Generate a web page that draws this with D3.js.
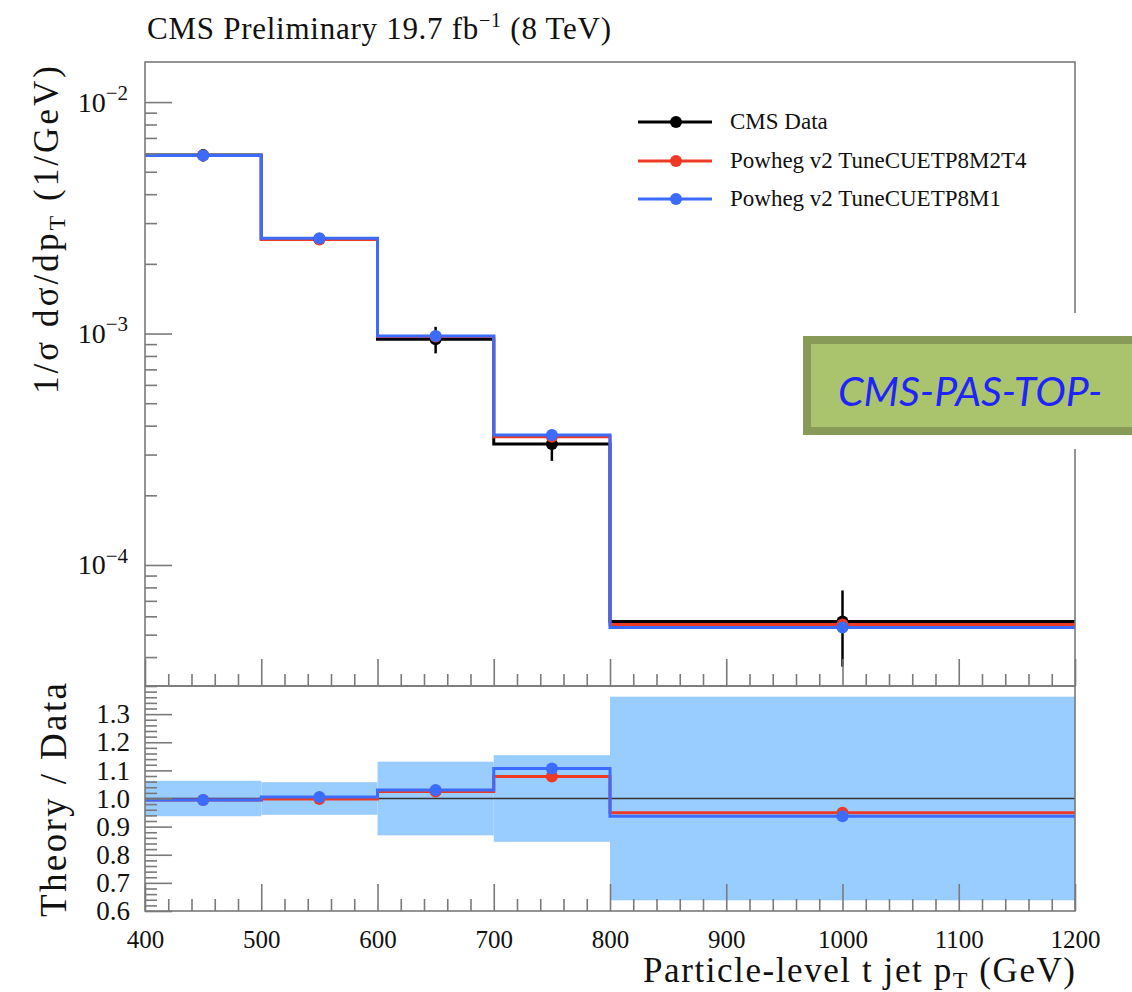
<!DOCTYPE html>
<html>
<head>
<meta charset="utf-8">
<script src="https://cdn.jsdelivr.net/npm/d3@7"></script>
<style>
  html, body { margin: 0; padding: 0; background: #fff; }
  svg { display: block; }
</style>
</head>
<body>
<svg id="chart" width="1132" height="992"></svg>
<script>
// ---------------- data ----------------
const binEdges   = [400, 500, 600, 700, 800, 1200];
const binCenters = [450, 550, 650, 750, 1000];

const dataValues = [5.90e-3, 2.56e-3, 9.45e-4, 3.33e-4, 5.70e-5];
const dataRelErr = [0.063, 0.058, 0.131, 0.154, 0.362];

const m2t4Values = [5.88e-3, 2.55e-3, 9.70e-4, 3.58e-4, 5.53e-5];
const m1Values   = [5.88e-3, 2.58e-3, 9.75e-4, 3.64e-4, 5.37e-5];

const m2t4Ratio  = [0.995, 0.998, 1.025, 1.078, 0.949];
const m1Ratio    = [0.995, 1.005, 1.030, 1.107, 0.937];

const xTickValues     = [400, 500, 600, 700, 800, 900, 1000, 1100, 1200];
const logMajorTicks   = [1e-4, 1e-3, 1e-2];
const ratioTickLabels = [0.6, 0.7, 0.8, 0.9, 1.0, 1.1, 1.2, 1.3];

const legendLabels = ["CMS Data", "Powheg v2 TuneCUETP8M2T4", "Powheg v2 TuneCUETP8M1"];
const titleText = "CMS Preliminary 19.7 fb";
const noteText  = "CMS-PAS-TOP-";

// ---------------- layout ----------------
const serif = "Liberation Serif, DejaVu Serif, serif";
const colData = "#000000", colRed = "#ee3a24", colBlue = "#3b6cff";
const frameCol = "#7a7a7a";
const L = 145, R = 1075;
const topY0 = 62, topY1 = 686, ratY0 = 686, ratY1 = 911;

const svg = d3.select("#chart");

const x = d3.scaleLinear().domain([400, 1200]).range([L, R]);
const y = d3.scaleLog().domain([3.0e-5, 1.49e-2]).range([topY1, topY0]);
const yr = d3.scaleLinear().domain([0.6, 1.4]).range([ratY1, ratY0]);

const defs = svg.append("defs");
defs.append("clipPath").attr("id", "clipTop").append("rect")
  .attr("x", L).attr("y", topY0).attr("width", R - L).attr("height", topY1 - topY0);
defs.append("clipPath").attr("id", "clipRat").append("rect")
  .attr("x", L).attr("y", ratY0).attr("width", R - L).attr("height", ratY1 - ratY0);

// ---------------- ratio band ----------------
const gRat = svg.append("g").attr("clip-path", "url(#clipRat)");
gRat.selectAll("rect.band").data(dataRelErr).join("rect")
  .attr("class", "band")
  .attr("x", (d, i) => x(binEdges[i]))
  .attr("width", (d, i) => x(binEdges[i + 1]) - x(binEdges[i]))
  .attr("y", d => yr(1 + d))
  .attr("height", d => yr(1 - d) - yr(1 + d))
  .attr("fill", "#99ccff");

gRat.append("line")
  .attr("x1", x(400)).attr("x2", x(1200))
  .attr("y1", yr(1)).attr("y2", yr(1))
  .attr("stroke", "#333").attr("stroke-width", 1.3);

// ---------------- step helper ----------------
function stepPoints(vals) {
  const pts = vals.map((v, i) => [binEdges[i], v]);
  pts.push([binEdges[binEdges.length - 1], vals[vals.length - 1]]);
  return pts;
}
const lineTop = d3.line().x(d => x(d[0])).y(d => y(d[1])).curve(d3.curveStepAfter);
const lineRat = d3.line().x(d => x(d[0])).y(d => yr(d[1])).curve(d3.curveStepAfter);

// ---------------- top panel ----------------
const gTop = svg.append("g").attr("clip-path", "url(#clipTop)");
[[dataValues, colData], [m2t4Values, colRed], [m1Values, colBlue]].forEach(([vals, c]) => {
  gTop.append("path").attr("d", lineTop(stepPoints(vals)))
    .attr("fill", "none").attr("stroke", c).attr("stroke-width", 3);
});
gTop.selectAll("line.err").data(dataValues).join("line")
  .attr("x1", (d, i) => x(binCenters[i])).attr("x2", (d, i) => x(binCenters[i]))
  .attr("y1", (d, i) => y(d * (1 + dataRelErr[i])))
  .attr("y2", (d, i) => y(d * (1 - dataRelErr[i])))
  .attr("stroke", colData).attr("stroke-width", 2.5);
gTop.selectAll("circle.data").data(dataValues).join("circle")
  .attr("cx", (d, i) => x(binCenters[i])).attr("cy", d => y(d))
  .attr("r", 6).attr("fill", colData);
gTop.selectAll("circle.m2").data(m2t4Values).join("circle")
  .attr("cx", (d, i) => x(binCenters[i])).attr("cy", d => y(d))
  .attr("r", 6).attr("fill", colRed);
gTop.selectAll("circle.m1").data(m1Values).join("circle")
  .attr("cx", (d, i) => x(binCenters[i])).attr("cy", d => y(d))
  .attr("r", 6).attr("fill", colBlue);

// ---------------- ratio lines ----------------
[[m2t4Ratio, colRed], [m1Ratio, colBlue]].forEach(([vals, c]) => {
  gRat.append("path").attr("d", lineRat(stepPoints(vals)))
    .attr("fill", "none").attr("stroke", c).attr("stroke-width", 3);
});
gRat.selectAll("circle.r2").data(m2t4Ratio).join("circle")
  .attr("cx", (d, i) => x(binCenters[i])).attr("cy", d => yr(d))
  .attr("r", 6).attr("fill", colRed);
gRat.selectAll("circle.r1").data(m1Ratio).join("circle")
  .attr("cx", (d, i) => x(binCenters[i])).attr("cy", d => yr(d))
  .attr("r", 6).attr("fill", colBlue);

// ---------------- axes ----------------
function styleAxis(g) {
  g.select(".domain").remove();
  g.selectAll(".tick line").attr("stroke", frameCol).attr("stroke-width", 1.6);
  g.attr("font-family", serif);
  g.selectAll(".tick text").style("font-family", serif);
}
const xMinor = d3.range(400, 1201, 20).filter(v => v % 100 !== 0);

svg.append("g").attr("transform", `translate(0,${topY1})`)
  .call(d3.axisTop(x).tickValues(xTickValues).tickSize(27).tickFormat(""))
  .call(styleAxis);
svg.append("g").attr("transform", `translate(0,${topY1})`)
  .call(d3.axisTop(x).tickValues(xMinor).tickSize(12).tickFormat(""))
  .call(styleAxis);

const gxb = svg.append("g").attr("transform", `translate(0,${ratY1})`)
  .call(d3.axisBottom(x).tickValues(xTickValues).tickSizeInner(-27).tickSizeOuter(0).tickPadding(19).tickFormat(d3.format("d")))
  .call(styleAxis);
gxb.selectAll(".tick text").style("font-size", "25px").attr("fill", "#111");
svg.append("g").attr("transform", `translate(0,${ratY1})`)
  .call(d3.axisBottom(x).tickValues(xMinor).tickSizeInner(-12).tickSizeOuter(0).tickFormat(""))
  .call(styleAxis);

const logMinor = [];
[1e-5, 1e-4, 1e-3].forEach(dec => { for (let k = 2; k <= 9; k++) logMinor.push(k * dec); });
const gyl = svg.append("g").attr("transform", `translate(${L},0)`)
  .call(d3.axisLeft(y).tickValues(logMajorTicks).tickSizeInner(-27).tickSizeOuter(0).tickPadding(17)
    .tickFormat(d => String(Math.round(Math.log10(d)))))
  .call(styleAxis);
gyl.selectAll(".tick text").each(function () {
  const t = d3.select(this);
  const e = t.text();
  t.text(null).style("font-size", "28px").attr("fill", "#111").attr("dy", "0.32em");
  t.append("tspan").text("10");
  t.append("tspan").style("font-size", "21px").attr("dy", "-0.55em").text("\u2212" + e.replace("-", ""));
});
svg.append("g").attr("transform", `translate(${L},0)`)
  .call(d3.axisLeft(y).tickValues(logMinor.filter(v => v >= 3.0e-5 && v <= 1.49e-2)).tickSizeInner(-12).tickSizeOuter(0).tickFormat(""))
  .call(styleAxis);

const ratioMinor = d3.range(0.6, 1.4001, 0.02).map(v => +v.toFixed(2)).filter(v => Math.round(v * 100) % 10 !== 0);
const gyr = svg.append("g").attr("transform", `translate(${L},0)`)
  .call(d3.axisLeft(yr).tickValues(ratioTickLabels).tickSizeInner(-27).tickSizeOuter(0).tickPadding(15)
    .tickFormat(d3.format(".1f")))
  .call(styleAxis);
gyr.selectAll(".tick text").style("font-size", "27px").attr("fill", "#111");
svg.append("g").attr("transform", `translate(${L},0)`)
  .call(d3.axisLeft(yr).tickValues(ratioMinor).tickSizeInner(-12).tickSizeOuter(0).tickFormat(""))
  .call(styleAxis);

svg.append("rect").attr("x", L).attr("y", topY0).attr("width", R - L).attr("height", topY1 - topY0)
  .attr("fill", "none").attr("stroke", frameCol).attr("stroke-width", 1.6);
svg.append("rect").attr("x", L).attr("y", ratY0).attr("width", R - L).attr("height", ratY1 - ratY0)
  .attr("fill", "none").attr("stroke", frameCol).attr("stroke-width", 1.6);

// ---------------- texts ----------------
const title = svg.append("text").attr("x", 147).attr("y", 39)
  .style("font-family", serif).style("font-size", "31px").attr("fill", "#111")
  .attr("textLength", 464).attr("lengthAdjust", "spacing");
title.append("tspan").text(titleText);
title.append("tspan").style("font-size", "20px").attr("dy", -12).text("\u22121");
title.append("tspan").attr("dy", 12).text(" (8 TeV)");

const ylab = svg.append("text")
  .attr("transform", "translate(58,230) rotate(-90)")
  .attr("text-anchor", "middle")
  .style("font-family", serif).style("font-size", "35px").attr("fill", "#111")
  .attr("textLength", 328).attr("lengthAdjust", "spacing");
ylab.append("tspan").text("1/\u03C3 d\u03C3/dp");
ylab.append("tspan").style("font-size", "24px").attr("dy", 7).text("T");
ylab.append("tspan").attr("dy", -7).text(" (1/GeV)");

svg.append("text")
  .attr("transform", "translate(66,800) rotate(-90)")
  .attr("text-anchor", "middle")
  .style("font-family", serif).style("font-size", "37px").attr("fill", "#111")
  .attr("textLength", 234).attr("lengthAdjust", "spacing")
  .text("Theory / Data");

const xlab = svg.append("text").attr("x", R).attr("y", 982)
  .attr("text-anchor", "end")
  .style("font-family", serif).style("font-size", "35px").attr("fill", "#111")
  .attr("textLength", 432).attr("lengthAdjust", "spacing");
xlab.append("tspan").text("Particle-level t jet p");
xlab.append("tspan").style("font-size", "24px").attr("dy", 6).text("T");
xlab.append("tspan").attr("dy", -6).text(" (GeV)");

// ---------------- legend ----------------
const legCols = [colData, colRed, colBlue];
const legY = [122, 161, 199];
const gLeg = svg.append("g");
legendLabels.forEach((lab, i) => {
  gLeg.append("line").attr("x1", 638).attr("x2", 712).attr("y1", legY[i]).attr("y2", legY[i])
    .attr("stroke", legCols[i]).attr("stroke-width", 3);
  gLeg.append("circle").attr("cx", 676).attr("cy", legY[i]).attr("r", 6).attr("fill", legCols[i]);
  gLeg.append("text").attr("x", 730).attr("y", legY[i] + 7)
    .style("font-family", serif).style("font-size", "23px").attr("fill", "#111").text(lab);
});

// ---------------- overlay note box ----------------
svg.append("rect").attr("x", 785).attr("y", 313).attr("width", 347).attr("height", 136).attr("fill", "#fff");
svg.append("rect").attr("x", 806).attr("y", 341).attr("width", 340).attr("height", 94)
  .attr("fill", "rgba(0,0,0,0.18)");
svg.append("rect").attr("x", 807).attr("y", 340).attr("width", 340).attr("height", 91)
  .attr("fill", "#a9c46c").attr("stroke", "#879a57").attr("stroke-width", 8);
svg.append("text").attr("x", 838).attr("y", 406)
  .style("font-family", "Lato, Open Sans, sans-serif").style("font-style", "italic")
  .style("font-size", "41px").attr("fill", "#1f24ff").text(noteText);
</script>
</body>
</html>
